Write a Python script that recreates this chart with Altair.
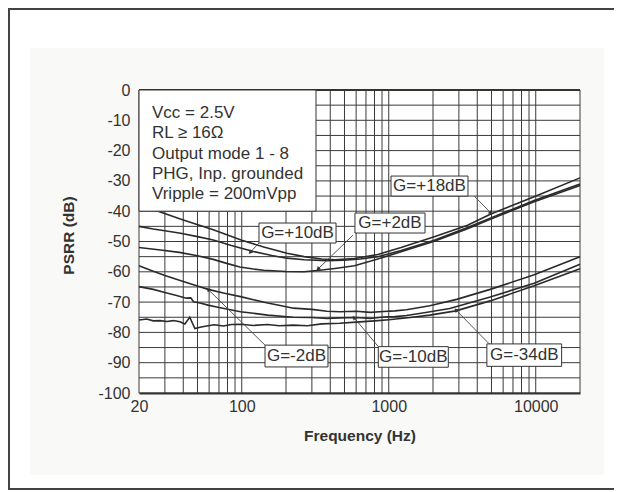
import math
import altair as alt
import pandas as pd

# ---------------- data ----------------
# frequency (Hz) / PSRR (dB) for each gain setting
f_p18 = [20, 27, 40, 64, 100, 141, 203, 266, 350, 430, 585, 842, 1213, 2041, 3436, 4950, 9750, 20000]
db_p18 = [-37.6, -40.0, -42.9, -46.1, -49.6, -51.8, -53.9, -55.0, -55.8, -56.0, -55.6, -54.3, -52.0, -48.4, -44.6, -40.9, -35.2, -29.0]

f_p10 = [20, 25, 37.6, 50, 64, 85, 120, 160, 203, 266, 380, 495, 642, 842, 1213, 2041, 3436, 4950, 9750, 20000]
db_p10 = [-45.0, -45.9, -47.2, -48.4, -49.5, -51.3, -53.3, -54.6, -55.5, -56.0, -56.3, -56.2, -55.8, -55.0, -53.0, -49.6, -45.4, -42.2, -36.5, -31.0]

f_p2 = [20, 28, 37.6, 50, 64, 80, 97, 120, 141, 200, 266, 352, 430, 585, 842, 1213, 2041, 3436, 4950, 9750, 20000]
db_p2 = [-52.0, -52.8, -53.6, -54.7, -55.9, -57.3, -58.4, -59.1, -59.5, -59.9, -60.0, -59.4, -58.9, -58.0, -55.8, -53.4, -49.9, -45.8, -42.6, -36.9, -31.5]

f_m2 = [20, 25, 30, 40, 50, 59, 75, 98, 120, 150, 190, 224, 300, 380, 464, 600, 750, 919, 1100, 1320, 1900, 2900, 4900, 9750, 20000]
db_m2 = [-58.0, -59.8, -61.2, -63.2, -64.7, -65.8, -67.0, -68.2, -69.2, -70.3, -71.3, -72.0, -72.4, -73.0, -73.2, -73.0, -73.4, -73.1, -72.9, -72.5, -71.2, -69.1, -65.8, -61.0, -55.0]

f_m10 = [20, 25, 30, 36, 42, 45, 47, 52, 59, 70, 98, 120, 150, 224, 300, 380, 464, 600, 750, 919, 1100, 1320, 1700, 2600, 4900, 9750, 20000]
db_m10 = [-64.9, -65.8, -66.8, -67.8, -68.7, -68.6, -69.9, -70.3, -71.0, -71.8, -73.2, -73.7, -74.3, -75.0, -75.1, -75.4, -75.2, -75.1, -75.4, -74.9, -74.8, -74.4, -73.6, -72.1, -68.3, -63.8, -57.5]

f_m34 = [20, 22.6, 25, 27.8, 31, 34.3, 38, 41, 44.3, 48, 52, 57.6, 65, 75, 85, 98, 120, 150, 180, 224, 280, 350, 464, 600, 800, 1000, 1400, 1900, 2860, 4900, 9750, 20000]
db_m34 = [-75.9, -75.6, -76.2, -76.1, -76.4, -76.1, -76.5, -77.2, -75.0, -78.7, -78.3, -77.9, -77.5, -77.9, -77.4, -77.3, -77.7, -77.4, -77.8, -77.6, -77.8, -77.2, -77.0, -76.6, -76.2, -75.8, -75.1, -74.3, -72.9, -69.6, -64.6, -59.0]

series_names = ["G=+18dB", "G=+10dB", "G=+2dB", "G=-2dB", "G=-10dB", "G=-34dB"]

# curve labels: box corners (Hz / dB) and arrow start -> tip
box_f1 = [1036, 131, 589, 144, 849, 4650]
box_f2 = [3460, 438, 1765, 386, 2542, 15000]
box_top = [-28.4, -43.9, -40.6, -84.2, -84.7, -83.8]
box_bot = [-35.0, -50.5, -47.2, -91.4, -91.5, -91.2]
arr_f0 = [3816, 131, 571, 144, 849, 4826]
arr_d0 = [-35.0, -50.5, -47.9, -84.2, -84.7, -83.8]
arr_f1 = [4950, 114, 330, 59, 580, 2864]
arr_d1 = [-40.6, -53.6, -59.1, -65.8, -75.1, -72.6]

# conditions box (upper-left corner of plot)
cond_lines = ["Vcc = 2.5V", "RL \u2265 16\u03a9", "Output mode 1 - 8", "PHG, Inp. grounded", "Vripple = 200mVpp"]
cond_f = [20, 320]
cond_db = [0, -40]

# axes
x_grid = [20, 30, 40, 50, 60, 70, 80, 90, 100, 200, 300, 400, 500, 600, 700, 800, 900,
          1000, 2000, 3000, 4000, 5000, 6000, 7000, 8000, 9000, 10000, 20000]
x_labels = [20, 100, 1000, 10000]
y_grid = [-100, -95, -90, -85, -80, -75, -70, -65, -60, -55, -50, -45, -40, -35, -30, -25, -20, -15, -10, -5, 0]
y_labels = [-100, -90, -80, -70, -60, -50, -40, -30, -20, -10, 0]

# ---------------- layout / style ----------------
W, H = 441, 303
FONT = "Liberation Sans"
INK = "#333333"
GRID = "#3a3a3a"

curve_rows = []
for name, fs, ds in zip(series_names,
                        [f_p18, f_p10, f_p2, f_m2, f_m10, f_m34],
                        [db_p18, db_p10, db_p2, db_m2, db_m10, db_m34]):
    for f, d in zip(fs, ds):
        curve_rows.append({"series": name, "f": f, "psrr": d})
curve_df = pd.DataFrame(curve_rows)


def px(f):
    return W * math.log10(f / 20.0) / 3.0


def py(d):
    return H * (-d) / 100.0


angles = []
for a, b, c, d in zip(arr_f0, arr_d0, arr_f1, arr_d1):
    dx = px(c) - px(a)
    dy = py(d) - py(b)
    angles.append(math.degrees(math.atan2(dx, -dy)) % 360)

label_df = pd.DataFrame({
    "text": series_names,
    "f1": box_f1, "f2": box_f2, "top": box_top, "bot": box_bot,
    "fc": [math.sqrt(a * b) for a, b in zip(box_f1, box_f2)],
    "dc": [(a + b) / 2 for a, b in zip(box_top, box_bot)],
    "af0": arr_f0, "ad0": arr_d0, "af1": arr_f1, "ad1": arr_d1,
    "ang": angles,
})

xscale = alt.Scale(type="log", domain=[20, 20000], nice=False)
yscale = alt.Scale(domain=[-100, 0], nice=False)

xaxis = alt.Axis(values=x_labels, labelExpr="'' + datum.value", grid=False, ticks=False,
                 domain=True, domainColor=INK, domainWidth=2, labelFont=FONT,
                 labelFontSize=16, labelColor=INK, labelPadding=5, labelFlush=False,
                 labelOverlap=False,
                 title="Frequency (Hz)", titleFont=FONT, titleFontSize=15.5,
                 titleFontWeight="bold", titleColor=INK, titleY=42,
                 titleBaseline="middle", zindex=1)
yaxis = alt.Axis(values=y_labels, labelExpr="'' + datum.value", grid=False, ticks=False,
                 domain=False, labelFont=FONT, labelFontSize=16, labelColor=INK,
                 labelPadding=9, labelOverlap=False,
                 title="PSRR (dB)", titleFont=FONT, titleFontSize=15.5,
                 titleFontWeight="bold", titleColor=INK, titleX=-71, titleY=145,
                 titleAngle=270, titleAlign="center", titleBaseline="middle", zindex=1)


def X(field):
    return alt.X(field, type="quantitative", scale=xscale, axis=xaxis)


def Y(field):
    return alt.Y(field, type="quantitative", scale=yscale, axis=yaxis)


one = pd.DataFrame({"k": [0]})

panel = alt.Chart(one).mark_rect(fill="#f9f9f7").encode(
    x=alt.value(-109), x2=alt.value(465), y=alt.value(-42), y2=alt.value(385))
plot_bg = alt.Chart(one).mark_rect(fill="white").encode(
    x=alt.value(0), x2=alt.value(W), y=alt.value(0), y2=alt.value(H))

vgrid = alt.Chart(pd.DataFrame({"f": x_grid})).mark_rule(color=GRID, strokeWidth=1).encode(x=X("f"))
hgrid = alt.Chart(pd.DataFrame({"psrr": y_grid})).mark_rule(color=GRID, strokeWidth=1).encode(y=Y("psrr"))

top_line = alt.Chart(one).mark_rule(color=INK, strokeWidth=2).encode(
    x=alt.value(0), x2=alt.value(W), y=alt.value(0))

curves = alt.Chart(curve_df).mark_line(color="#2a2a2a", strokeWidth=1.6).encode(
    x=X("f"), y=Y("psrr"), detail="series:N")

cond_box = alt.Chart(pd.DataFrame({"f1": [cond_f[0]], "f2": [cond_f[1]],
                                   "top": [cond_db[0]], "bot": [cond_db[1]]})).mark_rect(
    fill="white", stroke=INK, strokeWidth=1).encode(
    x=X("f1"), x2="f2", y=Y("top"), y2="bot")
cond_text = alt.Chart(one).mark_text(
    align="left", baseline="top", lineBreak="\n", lineHeight=20.3,
    font=FONT, fontSize=17, color=INK).encode(
    x=alt.value(13), y=alt.value(15), text=alt.value("\n".join(cond_lines)))

arrows = alt.Chart(label_df).mark_rule(color="#444444", strokeWidth=0.9).encode(
    x=X("af0"), y=Y("ad0"), x2="af1", y2="ad1")
heads = alt.Chart(label_df).mark_point(shape="triangle-up", filled=True, size=22,
                                       color="#333333", opacity=1).encode(
    x=X("af1"), y=Y("ad1"), angle=alt.Angle("ang:Q", scale=None))
boxes = alt.Chart(label_df).mark_rect(fill="white", stroke=INK, strokeWidth=1).encode(
    x=X("f1"), x2="f2", y=Y("top"), y2="bot")
box_text = alt.Chart(label_df).mark_text(font=FONT, fontSize=17, color=INK,
                                         baseline="middle", align="center").encode(
    x=X("fc"), y=Y("dc"), text="text:N")

border_top = alt.Chart(one).mark_rule(color="#444444", strokeWidth=2).encode(
    x=alt.value(-131), x2=alt.value(475), y=alt.value(-81))
border_left = alt.Chart(one).mark_rule(color="#444444", strokeWidth=2).encode(
    x=alt.value(-130), y=alt.value(-82), y2=alt.value(400))
border_bottom = alt.Chart(one).mark_rule(color="#444444", strokeWidth=2).encode(
    x=alt.value(-131), x2=alt.value(475), y=alt.value(399))

chart = alt.layer(
    panel, plot_bg, vgrid, hgrid, top_line, curves, cond_box, cond_text,
    arrows, heads, boxes, box_text, border_top, border_left, border_bottom
).properties(
    width=W, height=H,
    autosize=alt.AutoSizeParams(type="none"),
    padding={"left": 131, "top": 82, "right": 34, "bottom": 97},
    background="white",
).configure_view(stroke=None)

chart.save("out.html", embed_options={"renderer": "svg", "actions": False})
